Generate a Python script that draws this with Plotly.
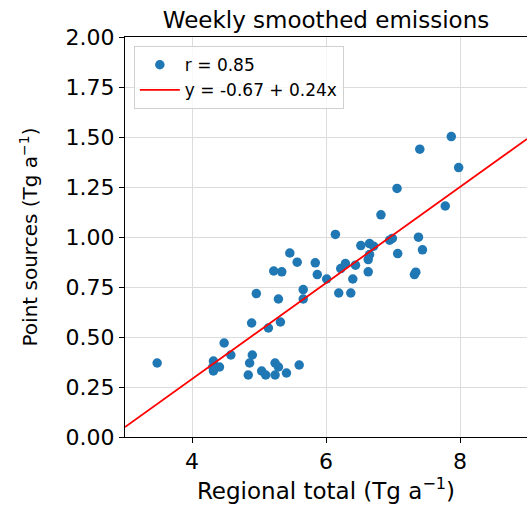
import plotly.graph_objects as go

regional_total = [3.48, 4.32, 4.32, 4.41, 4.31, 4.58, 4.48, 4.84, 4.86, 4.90,
                  4.89, 5.04, 5.10, 5.24, 5.24, 5.29, 5.41, 5.60, 5.14, 5.32,
                  4.96, 5.29, 5.22, 5.34, 5.46, 5.57, 5.84, 5.87, 6.01, 5.66,
                  5.66, 6.19, 6.37, 6.14, 6.22, 6.29, 6.44, 6.40, 6.52, 6.65,
                  6.71, 6.65, 6.63, 6.63, 6.82, 6.95, 6.99, 7.06, 7.07, 7.32,
                  7.34, 7.38, 7.44, 7.40, 7.78, 7.87, 7.98]
point_sources = [0.37, 0.38, 0.33, 0.35, 0.35, 0.41, 0.47, 0.31, 0.37, 0.41,
                 0.57, 0.33, 0.31, 0.31, 0.37, 0.35, 0.32, 0.36, 0.545, 0.575,
                 0.717, 0.69, 0.83, 0.826, 0.92, 0.874, 0.871, 0.812, 0.79, 0.737,
                 0.69, 0.72, 0.72, 1.013, 0.842, 0.867, 0.859, 0.79, 0.957, 0.967,
                 0.954, 0.912, 0.887, 0.826, 1.111, 0.984, 0.993, 1.243, 0.917, 0.812,
                 0.824, 0.999, 0.936, 1.439, 1.155, 1.502, 1.347]

intercept = -0.67
slope = 0.24
fit_x = [3, 9]
fit_y = [intercept + slope * v for v in fit_x]

x_ticks = [4, 6, 8]
y_ticks = [0, 0.25, 0.5, 0.75, 1.0, 1.25, 1.5, 1.75, 2.0]

font = "DejaVu Sans"

fig = go.Figure()
fig.add_trace(go.Scatter(x=regional_total, y=point_sources, mode="markers",
                         marker=dict(color="#1f77b4", size=9.5),
                         name="r = 0.85"))
fig.add_trace(go.Scatter(x=fit_x, y=fit_y, mode="lines",
                         line=dict(color="red", width=1.8),
                         name="y = -0.67 + 0.24x"))

fig.update_layout(
    width=528, height=507,
    margin=dict(l=125, r=1, t=37, b=70),
    paper_bgcolor="white", plot_bgcolor="white",
    font=dict(family=font, color="black"),
    title=dict(text="Weekly smoothed emissions", x=326 / 528, xanchor="center",
               y=1 - 20 / 507, yanchor="middle", font=dict(size=23, family=font)),
    showlegend=True,
    legend=dict(x=0.022, y=0.977, xanchor="left", yanchor="top",
                bgcolor="rgba(255,255,255,0.8)", bordercolor="#d0d0d0", borderwidth=1,
                font=dict(size=17, family=font), itemwidth=40, tracegroupgap=0),
)
fig.update_xaxes(range=[3, 9], tickvals=x_ticks, ticks="outside", ticklen=5,
                 tickcolor="black", showline=True, linecolor="black", linewidth=1,
                 mirror=True, showgrid=True, gridcolor="#dcdcdc", zeroline=False,
                 tickfont=dict(size=22, family=font),
                 title=dict(text="Regional total (Tg a<sup>−1</sup>)",
                            font=dict(size=23, family=font), standoff=8))
fig.update_yaxes(range=[0, 2], tickvals=y_ticks, tickformat=".2f", ticks="outside",
                 ticklen=5, tickcolor="black", showline=True, linecolor="black",
                 linewidth=1, showgrid=True, gridcolor="#dcdcdc", zeroline=False,
                 tickfont=dict(size=22, family=font),
                 title=dict(text="Point sources (Tg a<sup>−1</sup>)",
                            font=dict(size=20, family=font), standoff=22))

fig.write_html("out.html", config={"displayModeBar": False},
               post_script="document.body.style.margin='0';document.body.style.overflow='hidden';")
